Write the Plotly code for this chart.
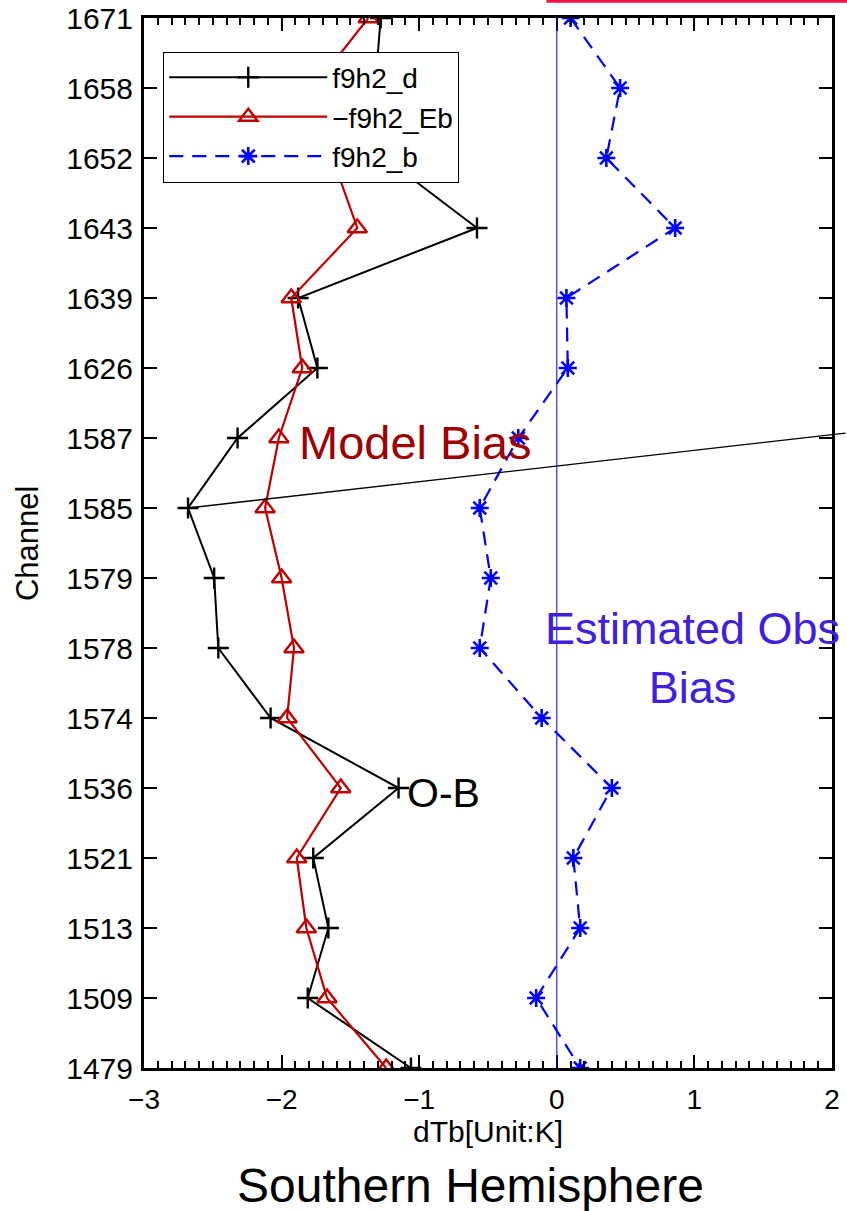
import plotly.graph_objects as go

# Channels, listed top to bottom as they appear on the axis
channels = ["1671", "1658", "1652", "1643", "1639", "1626", "1587", "1585",
            "1579", "1578", "1574", "1536", "1521", "1513", "1509", "1479"]

# O-B departures
f9h2_d = [-1.28, -1.32, -1.25, -0.58, -1.88, -1.74, -2.32, -2.68,
          -2.49, -2.46, -2.08, -1.15, -1.77, -1.66, -1.81, -1.06]
# Negative model bias estimate
neg_f9h2_Eb = [-1.37, -1.77, -1.63, -1.45, -1.93, -1.85, -2.02, -2.12,
               -2.00, -1.91, -1.96, -1.57, -1.89, -1.82, -1.67, -1.24]
# Estimated observation bias
f9h2_b = [0.10, 0.46, 0.36, 0.86, 0.07, 0.08, -0.28, -0.56,
          -0.48, -0.56, -0.11, 0.40, 0.12, 0.17, -0.15, 0.17]

pos = list(range(len(channels)))
FONT = "Liberation Sans, Arial, sans-serif"

fig = go.Figure()

fig.add_trace(go.Scatter(
    x=f9h2_d, y=pos, name="f9h2_d", mode="lines+markers",
    line=dict(color="black", width=2),
    marker=dict(symbol="cross-thin-open", size=15, color="black",
                line=dict(color="black", width=2.4)),
    cliponaxis=True))

fig.add_trace(go.Scatter(
    x=neg_f9h2_Eb, y=pos, name="\u2212f9h2_Eb", mode="lines+markers",
    line=dict(color="#c00000", width=2.2),
    marker=dict(symbol="triangle-up-open", size=17, color="#c00000",
                line=dict(color="#c00000", width=2.4)),
    cliponaxis=True))

fig.add_trace(go.Scatter(
    x=f9h2_b, y=pos, name="f9h2_b", mode="lines+markers",
    line=dict(color="#0000ff", width=2.2, dash="14px,9px"),
    marker=dict(symbol="asterisk-open", size=15, color="#0000ff",
                line=dict(color="#0000ff", width=2.6)),
    cliponaxis=True))

# zero reference line
fig.add_shape(type="line", xref="x", yref="paper", x0=0, x1=0, y0=0, y1=1,
              line=dict(color="#0000ff", width=1))

# pointer line from the strongest O-B departure
i_min = f9h2_d.index(min(f9h2_d))
fig.add_annotation(x=f9h2_d[i_min], y=pos[i_min], xref="x", yref="y",
                   ax=662, ay=-75, axref="pixel", ayref="pixel",
                   text="", showarrow=True, arrowhead=0, arrowwidth=1.3,
                   arrowcolor="black")

fig.add_annotation(x=-1.025, y=6.06, xref="x", yref="y", text="Model Bias",
                   showarrow=False, xanchor="center", yanchor="middle",
                   font=dict(family=FONT, size=47, color="#a00000"))
fig.add_annotation(x=0.988, y=9.14, xref="x", yref="y",
                   text="Estimated Obs<br>Bias", showarrow=False,
                   xanchor="center", yanchor="middle",
                   font=dict(family=FONT, size=45, color="#4020e0"))
fig.add_annotation(x=-0.82, y=11.07, xref="x", yref="y", text="O-B",
                   showarrow=False, xanchor="center", yanchor="middle",
                   font=dict(family=FONT, size=41, color="black"))

# y-axis title
fig.add_annotation(x=-0.170, y=0.499, xref="paper", yref="paper",
                   text="Channel", textangle=-90, showarrow=False,
                   xanchor="center", yanchor="middle",
                   font=dict(family=FONT, size=31, color="black"))

fig.add_annotation(x=0.474, y=-0.112, xref="paper", yref="paper",
                   text="Southern Hemisphere", showarrow=False,
                   xanchor="center", yanchor="middle",
                   font=dict(family=FONT, size=48, color="black"))

# red rule across the top edge
fig.add_shape(type="line", xref="paper", yref="paper", x0=0.585, x1=1.05,
              y0=1.016, y1=1.016, line=dict(color="#ee1144", width=3))

fig.update_xaxes(
    range=[-3, 2], tickmode="array", tickvals=[-3, -2, -1, 0, 1, 2],
    ticktext=["\u22123", "\u22122", "\u22121", "0", "1", "2"],
    ticks="inside", ticklen=13, tickwidth=2, tickcolor="black",
    ticklabelstandoff=4, automargin=False,
    minor=dict(dtick=0.1, ticks="inside", ticklen=7, tickwidth=1.5,
               tickcolor="black", showgrid=False),
    showline=True, linecolor="black", linewidth=3, mirror="ticks",
    showgrid=False, zeroline=False,
    tickfont=dict(family=FONT, size=28, color="black"),
    title=dict(text="dTb[Unit:K]", standoff=4,
               font=dict(family=FONT, size=30, color="black")))

fig.update_yaxes(
    range=[15, 0], tickmode="array", tickvals=pos, ticktext=channels,
    ticks="inside", ticklen=13, tickwidth=2, tickcolor="black",
    ticklabelstandoff=2, automargin=False,
    showline=True, linecolor="black", linewidth=3, mirror="ticks",
    showgrid=False, zeroline=False,
    tickfont=dict(family=FONT, size=30, color="black"))

fig.update_layout(
    width=847, height=1211,
    margin=dict(l=144, r=15, t=18, b=143),
    paper_bgcolor="white", plot_bgcolor="white",
    showlegend=True,
    legend=dict(x=0.028, y=0.968, xanchor="left", yanchor="top",
                bgcolor="white", bordercolor="black", borderwidth=1,
                itemwidth=158, tracegroupgap=0,
                font=dict(family=FONT, size=28, color="black")),
)

fig.write_html("out.html")
